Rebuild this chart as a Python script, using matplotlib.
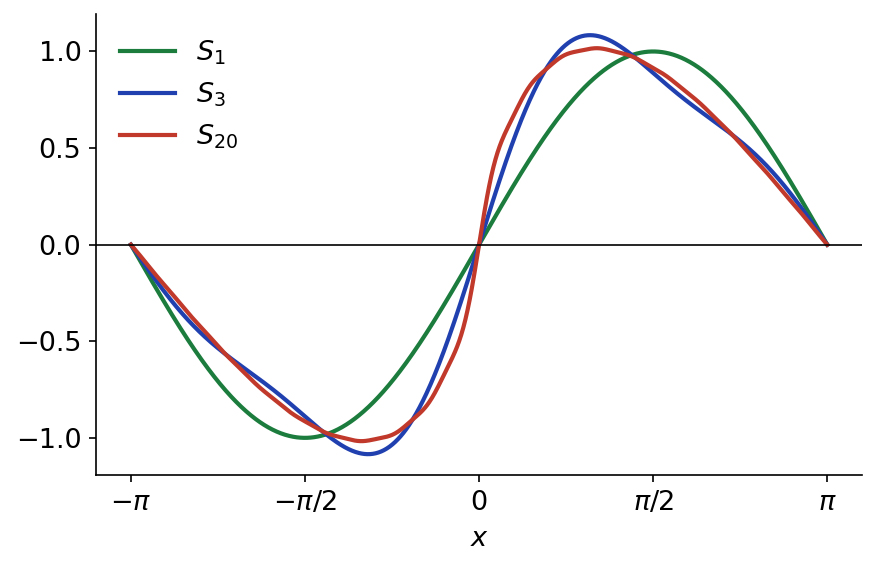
import numpy as np
import matplotlib
matplotlib.use("Agg")
import matplotlib.pyplot as plt

# Partial sums S_n(x) = sum_{k=1}^{n} sin(kx)/k^2
orders = [1, 3, 20]
labels = [r"$S_{1}$", r"$S_{3}$", r"$S_{20}$"]
colors = ["#1b7c3d", "#2040b0", "#c0392b"]
xticks = [-np.pi, -np.pi / 2, 0, np.pi / 2, np.pi]
xticklabels = [r"$-\pi$", r"$-\pi/2$", r"$0$", r"$\pi/2$", r"$\pi$"]

x = np.linspace(-np.pi, np.pi, 1000)

fig = plt.figure(figsize=(877 / 150, 569 / 150), dpi=150)
ax = fig.add_axes([0.1095, 0.165, 0.8735, 0.81])

for n, lab, c in zip(orders, labels, colors):
    k = np.arange(1, n + 1)
    y = (np.sin(np.outer(x, k)) / k**2).sum(axis=1)
    ax.plot(x, y, color=c, lw=2, label=lab)

ax.axhline(0, color="black", lw=0.8)
ax.set_xticks(xticks)
ax.set_xticklabels(xticklabels)
ax.set_yticks([-1.0, -0.5, 0.0, 0.5, 1.0])
ax.tick_params(labelsize=13)
ax.set_xlabel(r"$x$", fontsize=13, labelpad=5)
ax.spines["top"].set_visible(False)
ax.spines["right"].set_visible(False)
ax.legend(frameon=False, loc="upper left", fontsize=13)

fig.savefig("out.png", dpi=150)
